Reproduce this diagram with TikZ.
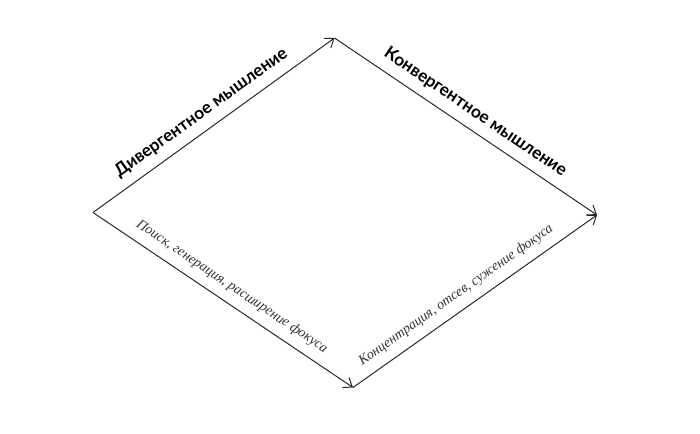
\documentclass[tikz,border=0pt]{standalone}
\usepackage{fontspec}
\setmainfont{Liberation Serif}
\newfontfamily\headfont{Lato}[BoldFont={Lato Bold}]
\usetikzlibrary{arrows.meta}

\tikzset{
  edgearr/.style={draw={rgb,255:red,40;green,40;blue,40}, line width=0.75, -{Straight Barb[length=6pt,width=9pt,line width=0.75]}},
  headlbl/.style={sloped, font=\headfont\bfseries\fontsize{13}{15}\selectfont, inner sep=0.75pt},
  notelbl/.style={sloped, font=\itshape\fontsize{10.5}{12}\selectfont, text={rgb,255:red,50;green,50;blue,50}, inner sep=0.75pt}
}

\begin{document}
\begin{tikzpicture}[x=0.75pt,y=0.75pt]
        \useasboundingbox (0,0) rectangle (700,433);

        % Corners
        \coordinate (L) at (93,220.5);
        \coordinate (T) at (334.5,395);
        \coordinate (R) at (597,218);
        \coordinate (B) at (353,45.5);

        %Straight Lines
        \draw [edgearr] (L) -- (T) node [headlbl, pos=0.49, above=6] {Дивергентное мышление};
        %Straight Lines
        \draw [edgearr] (T) -- (R) node [headlbl, pos=0.50, above=6] {Конвергентное мышление};
        %Straight Lines
        \draw [edgearr] (L) -- (B) node [notelbl, pos=0.50, above=6] {Поиск, генерация, расширение фокуса};
        %Straight Lines
        \draw [edgearr] (B) -- (R) node [notelbl, pos=0.46, above=6] {Концентрация, отсев, сужение фокуса};

\end{tikzpicture}
\end{document}
